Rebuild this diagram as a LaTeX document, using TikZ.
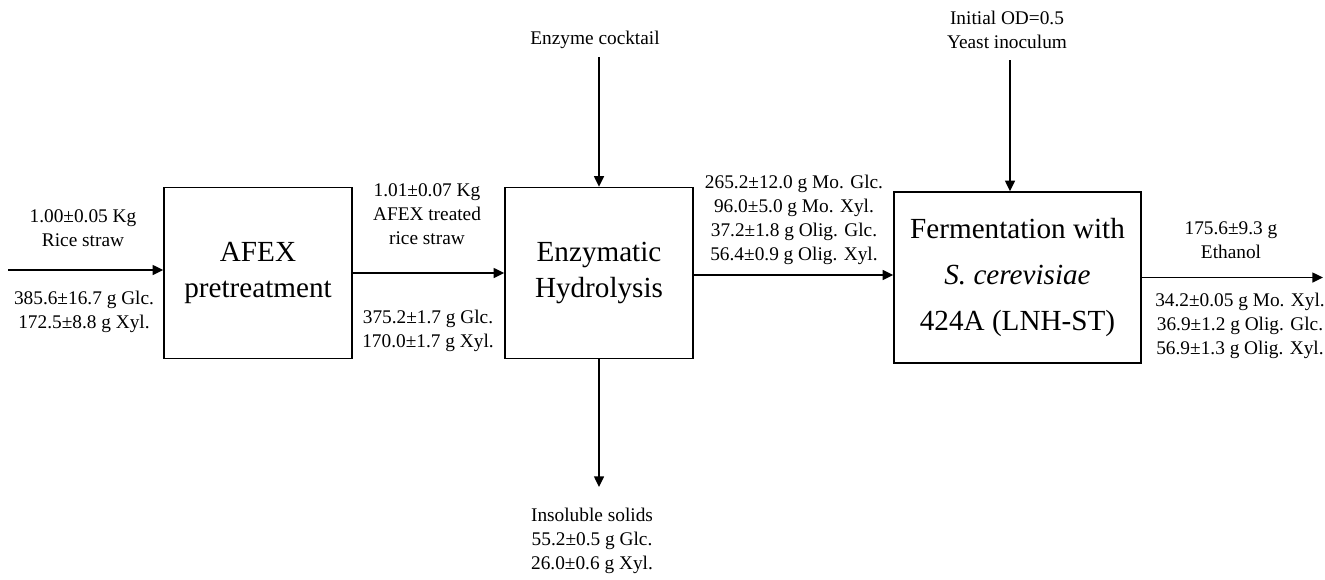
\documentclass[tikz,border=0pt]{standalone}
\usepackage{fontspec}
\setmainfont{Liberation Serif}
\usetikzlibrary{arrows.meta}
\tikzstyle{unit} = [
	rectangle,
	draw=black,
	line width=0.85pt,
	minimum height=3.42cm,
	text centered,
	align=center,
	font=\fontsize{16.6}{20.4}\selectfont
]
\tikzstyle{stream} = [align=center, font=\fontsize{11}{13.8}\selectfont]
\tikzstyle{flow} = [line width=0.85pt, -{Triangle[length=6pt,width=5.6pt]}]

\begin{document}
\begin{tikzpicture}[x=0.02cm, y=-0.02cm]
    \useasboundingbox (0, 0) rectangle (1325, 579);
    \node [unit, minimum width=3.76cm] at (258, 273) (afex) {AFEX\\pretreatment};
    \node [unit, minimum width=3.76cm] at (599, 273) (enz) {Enzymatic\\Hydrolysis};
    \node [unit, minimum width=4.94cm, font=\fontsize{16.6}{26}\selectfont] at (1017.5, 277.5) (ferm)
      {Fermentation with\\\textit{S. cerevisiae}\\424A (LNH-ST)};
    \node [stream] at (83, 228) (feed label) {1.00±0.05 Kg\\Rice straw};
    \node [stream] at (84, 312) (feed comp) {385.6±16.7 g Glc.\\172.5±8.8 g Xyl.};
    \node [stream] at (427, 214) (pre label) {1.01±0.07 Kg\\AFEX treated\\rice straw};
    \node [stream] at (428, 331) (pre comp) {375.2±1.7 g Glc.\\170.0±1.7 g Xyl.};
    \node [stream] at (794, 220) (hyd comp)
      {265.2±12.0 g Mo. Glc.\\96.0±5.0 g Mo. Xyl.\\37.2±1.8 g Olig. Glc.\\56.4±0.9 g Olig. Xyl.};
    \node [stream] at (1231, 240) (eth label) {175.6±9.3 g\\Ethanol};
    \node [stream] at (1240, 326) (eth comp) {34.2±0.05 g Mo. Xyl.\\36.9±1.2 g Olig. Glc.\\56.9±1.3 g Olig. Xyl.};
    \node [stream] at (595, 40) (enzyme) {Enzyme cocktail};
    \node [stream] at (1007, 30) (yeast) {Initial OD=0.5\\Yeast inoculum};
    \node [stream] at (592, 541) (solids) {Insoluble solids\\55.2±0.5 g Glc.\\26.0±0.6 g Xyl.};
    \coordinate (feed) at (8, 270);
    \coordinate (product) at (1323, 277.5);
    \coordinate (residue) at (599, 487);
    \coordinate (enz top) at (599, 57);
    \coordinate (yeast top) at (1010, 60);
    \draw [flow] (feed) -- (feed -| afex.west);
    \draw [flow] (afex.east) -- (enz.west);
    \draw [flow] (enz.east |- 0, 275) -- (ferm.west |- 0, 275);
    \draw [flow] (ferm.east) -- (product);
    \draw [flow] (enz top) -- (enz.north);
    \draw [flow] (yeast top) -- (yeast top |- ferm.north);
    \draw [flow] (enz.south) -- (residue);
\end{tikzpicture}
\end{document}
